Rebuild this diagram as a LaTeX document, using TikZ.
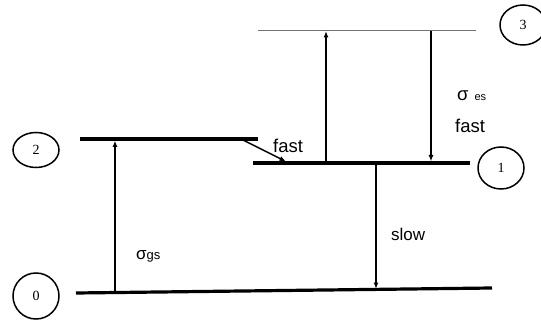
\documentclass[tikz,border=0pt]{standalone}
\usepackage{fontspec}
\setmainfont{Liberation Sans}
\newfontfamily\numfont{Liberation Serif}
\usetikzlibrary{arrows.meta,shapes.geometric}
\begin{document}
\begin{tikzpicture}[x=1pt,y=-1pt,
  level/.style={line width=3.2pt},
  thinlevel/.style={line width=1pt,draw=black!55},
  trans/.style={line width=1.4pt,-{Latex[length=6.5pt,width=5pt]}},
  statecirc/.style={draw,line width=1.5pt,ellipse,minimum width=46pt,minimum height=#1,inner sep=0pt,font=\numfont\fontsize{14}{14}\selectfont},
  lbl/.style={inner sep=0pt,anchor=base west,font=\fontsize{17}{17}\selectfont},
  biglbl/.style={lbl,font=\fontsize{18.5}{18.5}\selectfont}]
\useasboundingbox (0,0) rectangle (541,323);
% levels
\coordinate (l3a) at (258,31);  \coordinate (l3b) at (476,31);
\coordinate (l1a) at (253,163); \coordinate (l1b) at (470,163);
\coordinate (l2a) at (80,139);  \coordinate (l2b) at (258,139);
\coordinate (l0a) at (76,293);  \coordinate (l0b) at (492,288);
\draw[thinlevel] (l3a) -- (l3b);
\draw[level] (l1a) -- (l1b);
\draw[level] (l2a) -- (l2b);
\draw[level] (l0a) -- (l0b);
% state circles
\node[statecirc=40pt] (c3) at (523,25) {3};
\node[statecirc=42pt] (c1) at (501,168) {1};
\node[statecirc=35pt] (c2) at (36,150) {2};
\node[statecirc=46pt] (c0) at (36,296) {0};
% transitions
\coordinate (a0) at (115,292.5); \coordinate (a2) at (115,140.5);
\coordinate (b1) at (326,161.5); \coordinate (b3) at (326,31);
\coordinate (d3) at (431,31);    \coordinate (d1) at (431,161.5);
\coordinate (s1) at (376,164.5); \coordinate (s0) at (376,289);
\coordinate (f2) at (243,140);   \coordinate (f1) at (286,161.5);
\draw[trans] (a0) -- (a2);
\draw[trans] (b1) -- (b3);
\draw[trans] (d3) -- (d1);
\draw[trans] (s1) -- (s0);
\draw[trans] (f2) -- (f1);
% labels
\node[biglbl] (tfast1) at (273,153) {fast};
\node[biglbl] (tsig1) at (457,101) {σ\hspace{6pt}{\fontsize{11}{11}\selectfont es}};
\node[biglbl] (tfast2) at (455,133) {fast};
\node[lbl] (tslow) at (391,241) {slow};
\node[lbl] (tsig0) at (136,259) {σ{\fontsize{13}{13}\selectfont gs}};
\end{tikzpicture}
\end{document}
